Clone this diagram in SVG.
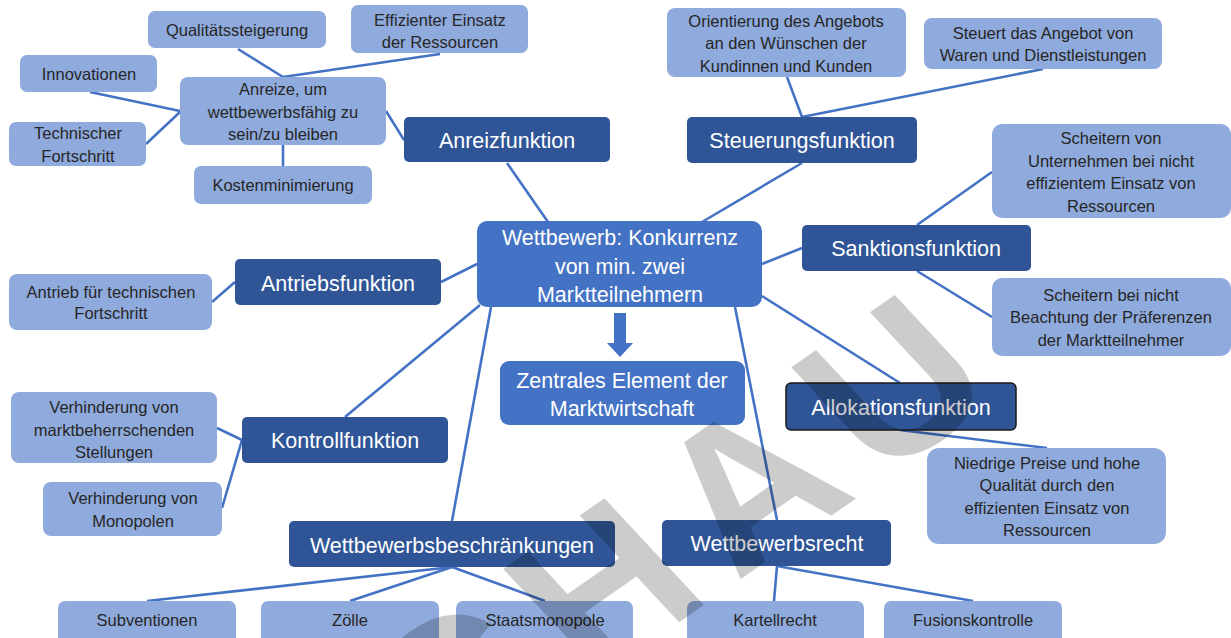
<svg xmlns="http://www.w3.org/2000/svg" width="1231" height="638" viewBox="0 0 1231 638">
<style>
.lt{fill:#8FAADC;}
.dk{fill:#2F5597;}
.ct{fill:#4472C4;}
.tl{font-family:"Liberation Sans",Arial,sans-serif;font-size:16.5px;fill:#262626;text-anchor:middle;}
.td{font-family:"Liberation Sans",Arial,sans-serif;font-size:21.5px;fill:#FFFFFF;text-anchor:middle;}
.con line{stroke:#4472C4;stroke-width:2.6;fill:none;}
</style>
<rect width="1231" height="638" fill="#FFFFFF"/>
<g class="con" id="connectors">
<line x1="238" y1="49" x2="283" y2="77"/>
<line x1="283" y1="77" x2="440" y2="54"/>
<line x1="90" y1="92" x2="180" y2="111"/>
<line x1="146" y1="144" x2="180" y2="112"/>
<line x1="283" y1="145" x2="283" y2="166"/>
<line x1="386" y1="111" x2="404" y2="140"/>
<line x1="507" y1="163" x2="548" y2="222"/>
<line x1="787" y1="77" x2="802" y2="117"/>
<line x1="802" y1="117" x2="1043" y2="69"/>
<line x1="802" y1="163" x2="702" y2="222"/>
<line x1="917" y1="225" x2="992" y2="172"/>
<line x1="917" y1="271" x2="992" y2="317"/>
<line x1="762" y1="264" x2="802" y2="248"/>
<line x1="762" y1="296" x2="900" y2="383"/>
<line x1="900" y1="430" x2="1047" y2="448"/>
<line x1="477" y1="264" x2="441" y2="282"/>
<line x1="235" y1="282" x2="212" y2="302"/>
<line x1="480" y1="305" x2="345" y2="417"/>
<line x1="242" y1="440" x2="217" y2="428"/>
<line x1="242" y1="440" x2="222" y2="508"/>
<line x1="491" y1="307" x2="452" y2="521"/>
<line x1="735" y1="307" x2="777" y2="520"/>
<line x1="452" y1="567" x2="147" y2="601"/>
<line x1="452" y1="567" x2="350" y2="601"/>
<line x1="452" y1="567" x2="545" y2="601"/>
<line x1="777" y1="566" x2="774" y2="601"/>
<line x1="777" y1="566" x2="973" y2="601"/>
</g>
<g id="n-quali"><rect class="lt" x="148" y="11" width="178" height="37" rx="7"/><text class="tl" x="237" y="36">Qualitätssteigerung</text></g>
<g id="n-effizient"><rect class="lt" x="351" y="5" width="177" height="48" rx="7"/><text class="tl" x="440" y="26">Effizienter Einsatz</text><text class="tl" x="440" y="48">der Ressourcen</text></g>
<g id="n-innov"><rect class="lt" x="20" y="55" width="137" height="37" rx="7"/><text class="tl" x="89" y="80">Innovationen</text></g>
<g id="n-anreize"><rect class="lt" x="180" y="77" width="206" height="68" rx="8"/><text class="tl" x="283" y="95">Anreize, um</text><text class="tl" x="283" y="118">wettbewerbsfähig zu</text><text class="tl" x="283" y="140">sein/zu bleiben</text></g>
<g id="n-technisch"><rect class="lt" x="9" y="122" width="137" height="44" rx="7"/><text class="tl" x="78" y="139">Technischer</text><text class="tl" x="78" y="162">Fortschritt</text></g>
<g id="n-kosten"><rect class="lt" x="194" y="166" width="178" height="38" rx="7"/><text class="tl" x="283" y="191">Kostenminimierung</text></g>
<g id="n-orient"><rect class="lt" x="667" y="8" width="239" height="69" rx="8"/><text class="tl" x="786" y="27">Orientierung des Angebots</text><text class="tl" x="786" y="49">an den Wünschen der</text><text class="tl" x="786" y="72">Kundinnen und Kunden</text></g>
<g id="n-steuert"><rect class="lt" x="924" y="18" width="238" height="51" rx="8"/><text class="tl" x="1043" y="39">Steuert das Angebot von</text><text class="tl" x="1043" y="61">Waren und Dienstleistungen</text></g>
<g id="n-scheitern1"><rect class="lt" x="992" y="124" width="239" height="94" rx="10"/><text class="tl" x="1111" y="144">Scheitern von</text><text class="tl" x="1111" y="167">Unternehmen bei nicht</text><text class="tl" x="1111" y="189">effizientem Einsatz von</text><text class="tl" x="1111" y="212">Ressourcen</text></g>
<g id="n-scheitern2"><rect class="lt" x="992" y="278" width="239" height="78" rx="10"/><text class="tl" x="1111" y="301">Scheitern bei nicht</text><text class="tl" x="1111" y="323">Beachtung der Präferenzen</text><text class="tl" x="1111" y="346">der Marktteilnehmer</text></g>
<g id="n-antrieb"><rect class="lt" x="9" y="274" width="203" height="56" rx="8"/><text class="tl" x="111" y="298">Antrieb für technischen</text><text class="tl" x="111" y="319">Fortschritt</text></g>
<g id="n-verh1"><rect class="lt" x="11" y="392" width="206" height="71" rx="8"/><text class="tl" x="114" y="413">Verhinderung von</text><text class="tl" x="114" y="436">marktbeherrschenden</text><text class="tl" x="114" y="458">Stellungen</text></g>
<g id="n-verh2"><rect class="lt" x="43" y="482" width="179" height="54" rx="8"/><text class="tl" x="133" y="504">Verhinderung von</text><text class="tl" x="133" y="527">Monopolen</text></g>
<g id="n-niedrig"><rect class="lt" x="927" y="448" width="239" height="96" rx="12"/><text class="tl" x="1047" y="469">Niedrige Preise und hohe</text><text class="tl" x="1047" y="491">Qualität durch den</text><text class="tl" x="1047" y="514">effizienten Einsatz von</text><text class="tl" x="1047" y="536">Ressourcen</text></g>
<g id="n-subv"><rect class="lt" x="58" y="601" width="178" height="45" rx="7"/><text class="tl" x="147" y="626">Subventionen</text></g>
<g id="n-zoelle"><rect class="lt" x="261" y="601" width="178" height="45" rx="7"/><text class="tl" x="350" y="626">Zölle</text></g>
<g id="n-staat"><rect class="lt" x="456" y="601" width="177" height="45" rx="7"/><text class="tl" x="545" y="626">Staatsmonopole</text></g>
<g id="n-kartell"><rect class="lt" x="687" y="601" width="177" height="45" rx="7"/><text class="tl" x="775" y="626">Kartellrecht</text></g>
<g id="n-fusion"><rect class="lt" x="884" y="601" width="178" height="45" rx="7"/><text class="tl" x="973" y="626">Fusionskontrolle</text></g>
<g id="n-anreizf"><rect class="dk" x="404" y="117" width="206" height="45" rx="5"/><text class="td" x="507" y="148">Anreizfunktion</text></g>
<g id="n-steuerf"><rect class="dk" x="687" y="117" width="230" height="46" rx="5"/><text class="td" x="802" y="148">Steuerungsfunktion</text></g>
<g id="n-sanktf"><rect class="dk" x="802" y="225" width="229" height="46" rx="5"/><text class="td" x="916" y="256">Sanktionsfunktion</text></g>
<g id="n-antriebf"><rect class="dk" x="235" y="259" width="206" height="46" rx="5"/><text class="td" x="338" y="291">Antriebsfunktion</text></g>
<g id="n-kontrollf"><rect class="dk" x="242" y="417" width="206" height="46" rx="5"/><text class="td" x="345" y="448">Kontrollfunktion</text></g>
<g id="n-allokf"><rect class="dk" x="786" y="383" width="230" height="47" rx="5" stroke="#1a1a1a" stroke-width="1.5"/><text class="td" x="901" y="415">Allokationsfunktion</text></g>
<g id="n-wbeschr"><rect class="dk" x="289" y="521" width="326" height="46" rx="5"/><text class="td" x="452" y="553">Wettbewerbsbeschränkungen</text></g>
<g id="n-wrecht"><rect class="dk" x="662" y="520" width="229" height="46" rx="5"/><text class="td" x="777" y="551">Wettbewerbsrecht</text></g>
<g id="n-center"><rect class="ct" x="477" y="221" width="285" height="86" rx="10"/><text class="td" x="620" y="245">Wettbewerb: Konkurrenz</text><text class="td" x="620" y="274">von min. zwei</text><text class="td" x="620" y="302">Marktteilnehmern</text></g>
<g id="arrow"><polygon class="ct" points="614,313 626,313 626,343 633,343 620,357 607,343 614,343"/></g>
<g id="n-zentral"><rect class="ct" x="500" y="361" width="245" height="64" rx="9"/><text class="td" x="622" y="388">Zentrales Element der</text><text class="td" x="622" y="416">Marktwirtschaft</text></g>
<text x="-847 -682 -505 -328 -152" y="0" transform="translate(1005 394) rotate(-35) skewX(8)" font-family="'Liberation Sans',Arial,sans-serif" font-size="210" font-weight="bold" fill="#000000" fill-opacity="0.2">SCHAU</text>
</svg>
